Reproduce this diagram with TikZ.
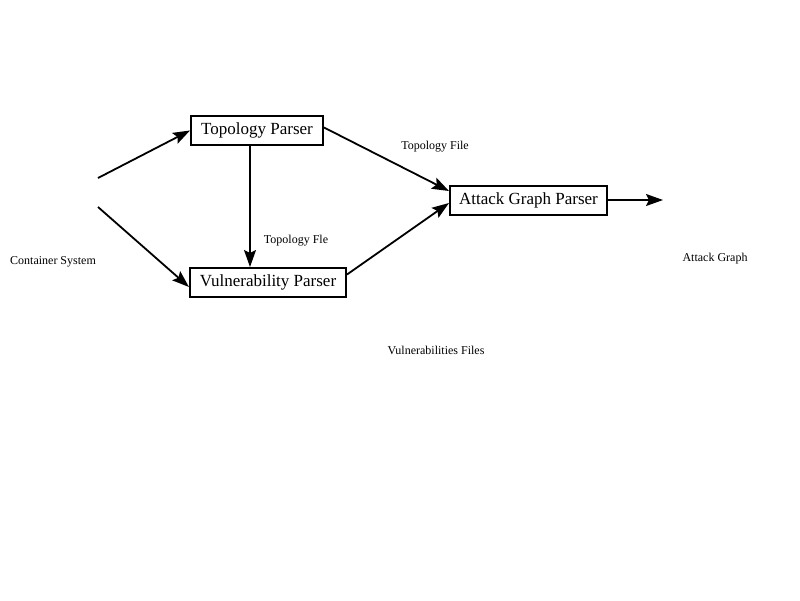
\documentclass[tikz,border=0pt]{standalone}
\usepackage{fontspec}
\setmainfont{Liberation Serif}
\usetikzlibrary{arrows.meta}

\tikzset{
  parser/.style={draw,line width=2pt,minimum height=29pt,inner xsep=7pt,font=\fontsize{17}{19}\selectfont},
  lbl/.style={font=\fontsize{12}{14}\selectfont},
  arr/.style={line width=1.8pt,-{Stealth[length=17pt,width=12pt,inset=3pt]}}
}

\begin{document}
\begin{tikzpicture}[x=1pt,y=-1pt]
                \useasboundingbox (0,0) rectangle (800,600);
                \node[parser,minimum width=132pt] (tp) at (257,130.5) {Topology Parser};
                \node[parser,minimum width=156pt] (vp) at (268,282.5) {Vulnerability Parser};
                \node[parser,minimum width=157pt] (agp) at (528.5,200) {Attack Graph Parser};
                \coordinate (cs1) at (98,178);
                \coordinate (cs2) at (98,207);
                \coordinate (ag) at (663,200);
                \node[lbl] (csl) at (53,262) {Container System};
                \node[lbl] (tfl1) at (296,241) {Topology Fle};
                \node[lbl] (tfl2) at (435,147) {Topology File};
                \node[lbl] (agl) at (715,259) {Attack Graph};
                \node[lbl] (vfl) at (436,350) {Vulnerabilities Files};
                \draw[arr] (cs1) -- (tp.west);
                \draw[arr] (cs2) -- ([yshift=-4.5pt]vp.west);
                \draw[arr] ([xshift=-7pt]tp.south) -- ([xshift=-18pt]vp.north);
                \draw[arr] ([yshift=3pt]tp.east) -- ([yshift=9pt]agp.west);
                \draw[arr] ([yshift=8pt]vp.east) -- ([yshift=-3pt]agp.west);
                \draw[arr] (agp.east) -- (ag);
            \end{tikzpicture}
\end{document}
